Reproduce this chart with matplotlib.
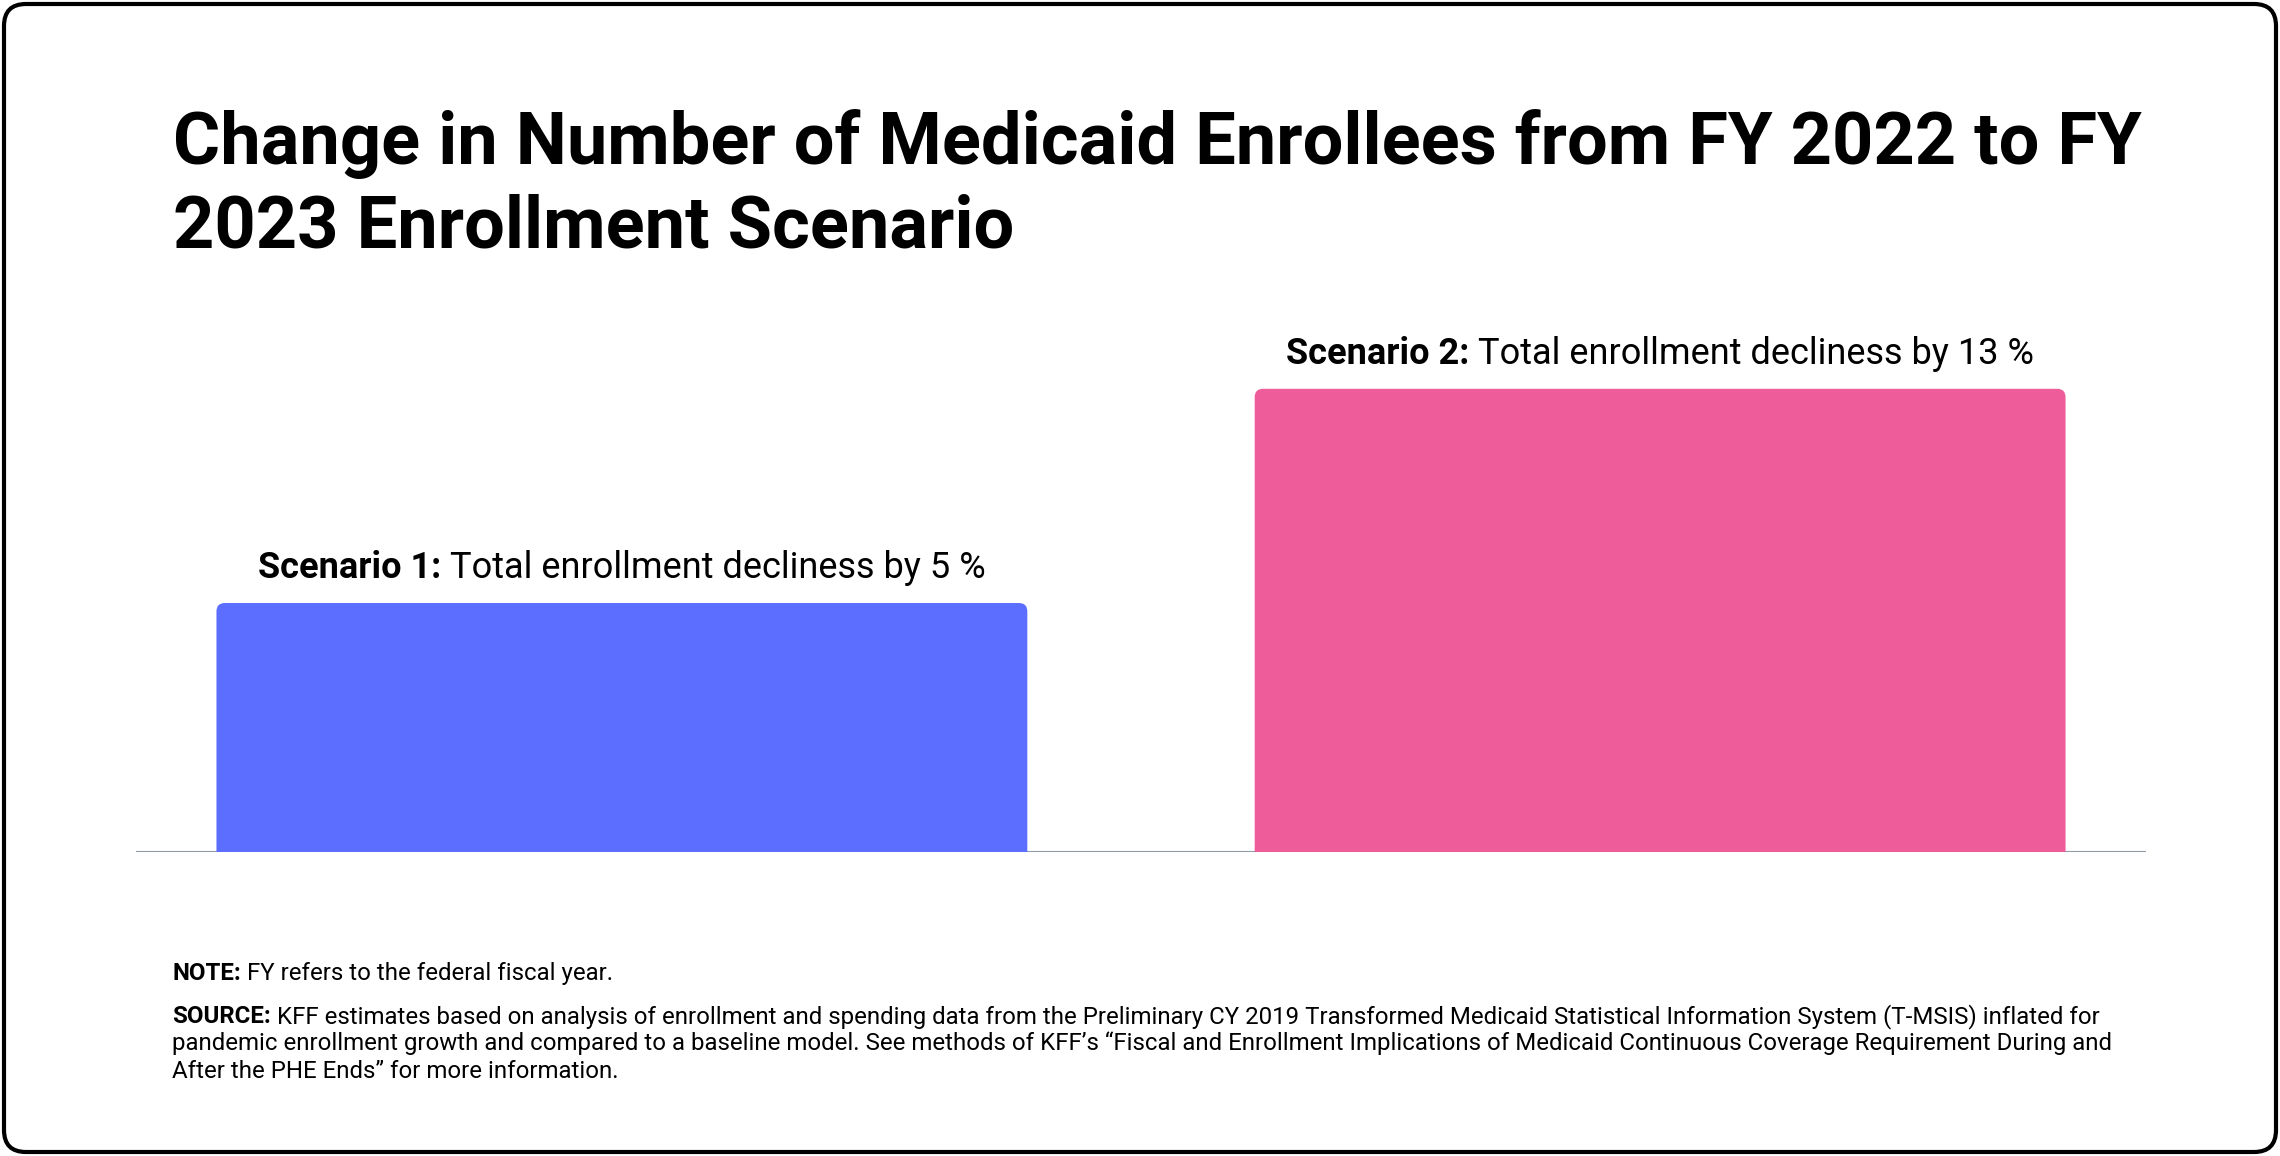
import matplotlib
matplotlib.use("Agg")
import matplotlib.pyplot as plt
from matplotlib.patches import FancyBboxPatch
from matplotlib.transforms import IdentityTransform

plt.rcParams['font.family'] = ['Roboto', 'DejaVu Sans']

# data
scenarios = ["Scenario 1:", "Scenario 2:"]
descriptions = ["Total enrollment decliness by 5 %", "Total enrollment decliness by 13 %"]
values = [4.3, 8.0]
colors = ["#5C6EFF", "#EE5C9A"]

title_lines = ["Change in Number of Medicaid Enrollees from FY 2022 to FY",
               "2023 Enrollment Scenario"]
note_label = "NOTE:"
note_text = " FY refers to the federal fiscal year."
source_label = "SOURCE:"
source_lines = [
    " KFF estimates based on analysis of enrollment and spending data from the Preliminary CY 2019 Transformed Medicaid Statistical Information System (T-MSIS) inflated for",
    "pandemic enrollment growth and compared to a baseline model. See methods of KFF\u2019s \u201cFiscal and Enrollment Implications of Medicaid Continuous Coverage Requirement During and",
    "After the PHE Ends\u201d for more information.",
]

W, H = 2280, 1156
fig = plt.figure(figsize=(W / 100, H / 100), dpi=100)
fig.patch.set_facecolor("white")
px = IdentityTransform()

# outer rounded border
border = FancyBboxPatch((4, 4), W - 8, H - 8, boxstyle="round,pad=0,rounding_size=22",
                        transform=px, facecolor="none", edgecolor="black", linewidth=3)
fig.patches.append(border)

# axes
ax = fig.add_axes([136 / W, (H - 852) / H, 2010 / W, 579 / H])
ax.set_xlim(-0.468, 1.468)
ax.set_ylim(0, 10)
ax.axis("off")

bars = ax.bar(range(len(values)), values, width=0.781, color=colors)
# replace bars with top-rounded versions
aspect = (1 / 57.9) / (1 / 1038)
for b in bars:
    b.set_visible(False)
    rp = FancyBboxPatch((b.get_x(), -1), b.get_width(), b.get_height() + 1,
                        boxstyle="round,pad=0,rounding_size=0.008",
                        mutation_aspect=aspect, facecolor=b.get_facecolor(),
                        edgecolor="none", clip_on=True)
    ax.add_patch(rp)
ax.axhline(0, color="#8C9AAB", linewidth=1.5, zorder=0)

renderer = fig.canvas.get_renderer()


def mixed_text(x, y, bold, regular, size, ha="left"):
    t1 = fig.text(x, y, bold, transform=px, fontsize=size, fontweight="bold",
                  va="baseline", color="black")
    t2 = fig.text(x, y, regular, transform=px, fontsize=size, va="baseline", color="black")
    w1 = t1.get_window_extent(renderer).width
    w2 = t2.get_window_extent(renderer).width
    start = x - (w1 + w2) / 2 if ha == "center" else x
    t1.set_x(start)
    t2.set_x(start + w1)


for i, (b, s, d) in enumerate(zip(bars, scenarios, descriptions)):
    cx, top = ax.transData.transform((b.get_x() + b.get_width() / 2, b.get_height()))
    mixed_text(cx, top + 25, s, " " + d, 26, ha="center")

# title
for j, line in enumerate(title_lines):
    fig.text(173, H - (164 + 83 * j), line, transform=px, fontsize=52, fontweight="bold",
             va="baseline", color="black")

# notes
mixed_text(172, H - 980, note_label, note_text, 17.3)
mixed_text(172, H - 1023, source_label, source_lines[0], 17.3)
for j, line in enumerate(source_lines[1:]):
    fig.text(172, H - (1050 + 28 * j), line, transform=px, fontsize=17.3,
             va="baseline", color="black")

fig.savefig("out.png", dpi=100)
